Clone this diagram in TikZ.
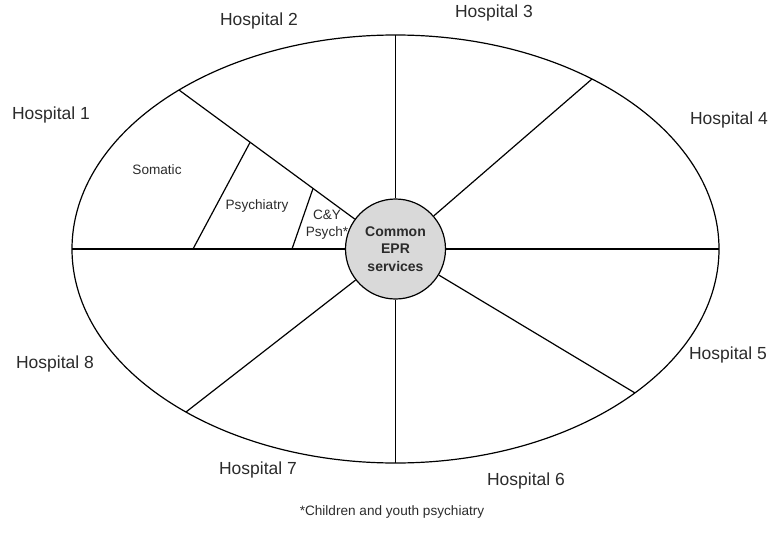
\documentclass[tikz,border=0pt]{standalone}
\usepackage{fontspec}
\setmainfont{Liberation Sans}
\definecolor{txt}{HTML}{2B2B2B}
\definecolor{hubfill}{HTML}{D9D9D9}
\begin{document}
\begin{tikzpicture}[x=0.5pt,y=0.5pt,line width=0.6pt,
  hosp/.style={text=txt,font=\fontsize{8.75}{10.5}\selectfont,inner sep=0pt},
  part/.style={text=txt,font=\fontsize{6.8}{8.5}\selectfont,inner sep=0pt,align=center},
  hub/.style={circle,draw,fill=hubfill,minimum size=50pt,inner sep=0pt,align=center,
    text=txt,font=\fontsize{7}{8.75}\selectfont\bfseries}]
\useasboundingbox (0,0) rectangle (771,548);

% the whole ring
\draw (395.5,299) ellipse [x radius=161.75pt, y radius=107pt];
\node[hub] (hub) at (395.5,299) {Common\\EPR\\services};

% ends of the spokes on the ring
\coordinate (w) at (72,299);
\coordinate (e) at (719,299);
\coordinate (n) at (395.5,513);
\coordinate (s) at (395.5,85);
\coordinate (nw) at (179,458);
\coordinate (ne) at (592,469);
\coordinate (se) at (635,155);
\coordinate (sw) at (186,136);

\draw (hub) -- (w);
\draw (hub) -- (e);
\draw (hub) -- (n);
\draw (hub) -- (s);
\draw (hub) -- (nw);
\draw (hub) -- (ne);
\draw (hub) -- (se);
\draw (hub) -- (sw);

% split of hospital 1
\coordinate (som1) at (250,405.5);
\coordinate (som2) at (193,299);
\coordinate (psy1) at (313,359.5);
\coordinate (psy2) at (292,299);
\draw (som1) -- (som2);
\draw (psy1) -- (psy2);

\node[part] (somatic) at (157,378) {Somatic};
\node[part] (psych) at (257,342) {Psychiatry};
\node[part] (cy) at (327,323) {C\&Y\\Psych*};

% hospital names
\node[hosp] (h1) at (51,433) {Hospital 1};
\node[hosp] (h2) at (259,527) {Hospital 2};
\node[hosp] (h3) at (494,535) {Hospital 3};
\node[hosp] (h4) at (729,428) {Hospital 4};
\node[hosp] (h5) at (728,193) {Hospital 5};
\node[hosp] (h6) at (526,67) {Hospital 6};
\node[hosp] (h7) at (258,78) {Hospital 7};
\node[hosp] (h8) at (55,184) {Hospital 8};

\node[part] (note) at (392,36) {*Children and youth psychiatry};
\end{tikzpicture}
\end{document}
